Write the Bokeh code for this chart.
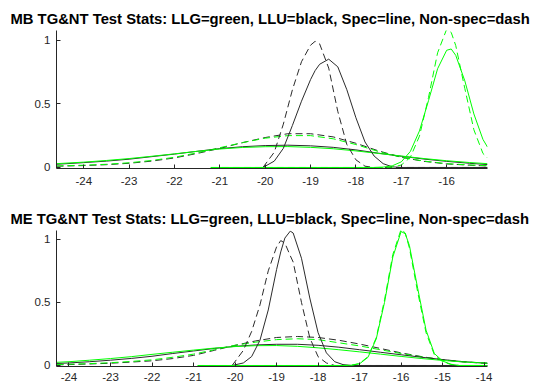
from bokeh.plotting import figure
from bokeh.layouts import column
from bokeh.models import FixedTicker, Range1d
from bokeh.embed import file_html
from bokeh.resources import INLINE

# ---------------- data ----------------
top_title = "MB TG&NT Test Stats: LLG=green, LLU=black, Spec=line, Non-spec=dash"
bot_title = "ME TG&NT Test Stats: LLG=green, LLU=black, Spec=line, Non-spec=dash"

top_xticks = [-24, -23, -22, -21, -20, -19, -18, -17, -16]
top_xlabels = ["-24", "-23", "-22", "-21", "-20", "-19", "-18", "-17", "-16"]
bot_xticks = [-24, -23, -22, -21, -20, -19, -18, -17, -16, -15, -14]
bot_xlabels = ["-24", "-23", "-22", "-21", "-20", "-19", "-18", "-17", "-16", "-15", "-14"]
yticks = [0, 0.5, 1]
ylabels = ["0", "0.5", "1"]

top_xlim = (-24.6, -15.1)
bot_xlim = (-24.3, -13.92)
top_ylim = (-0.008, 1.075)
bot_ylim = (-0.008, 1.07)

# --- top (MB) wide curves
top_wide_x = [-24.6, -24.0, -23.5, -23.0, -22.5, -22.0, -21.5, -21.0, -20.5, -20.0,
              -19.5, -19.0, -18.5, -18.0, -17.5, -17.0, -16.5, -16.0, -15.5, -15.1]
top_llu_spec_wide = [0.025, 0.038, 0.05, 0.065, 0.085, 0.105, 0.127, 0.148, 0.163, 0.172,
                     0.175, 0.17, 0.158, 0.138, 0.112, 0.088, 0.066, 0.048, 0.033, 0.023]
top_llg_spec_wide = [0.03, 0.042, 0.055, 0.07, 0.088, 0.107, 0.127, 0.145, 0.157, 0.163,
                     0.164, 0.158, 0.147, 0.13, 0.11, 0.09, 0.07, 0.053, 0.039, 0.03]
top_llu_non_wide = [0.01, 0.015, 0.022, 0.033, 0.05, 0.075, 0.11, 0.15, 0.195, 0.235,
                    0.265, 0.265, 0.24, 0.19, 0.13, 0.08, 0.048, 0.028, 0.018, 0.012]
top_llg_non_wide = [0.012, 0.018, 0.025, 0.037, 0.055, 0.08, 0.115, 0.155, 0.195, 0.23,
                    0.25, 0.25, 0.225, 0.18, 0.125, 0.08, 0.05, 0.03, 0.02, 0.014]

# --- top (MB) narrow black (LLU)
top_blk_x = [-20.05, -19.8, -19.6, -19.4, -19.2, -19.0, -18.9, -18.8, -18.6, -18.4,
             -18.2, -18.0, -17.8, -17.6, -17.4, -17.2, -17.0, -15.1]
top_llu_non_narrow = [0, 0.12, 0.34, 0.61, 0.83, 0.96, 0.99, 0.97, 0.78, 0.44,
                      0.18, 0.06, 0.01, 0, 0, 0, 0, 0]
top_llu_spec_narrow = [0, 0.05, 0.15, 0.33, 0.52, 0.69, 0.76, 0.81, 0.85, 0.79,
                       0.61, 0.39, 0.20, 0.09, 0.03, 0.005, 0, 0]

# --- top (MB) narrow green (LLG)
top_grn_x = [-21.2, -17.6, -17.4, -17.2, -17.0, -16.8, -16.6, -16.4, -16.2, -16.0,
             -15.9, -15.8, -15.6, -15.4, -15.2, -15.1]
top_llg_spec_narrow = [0, 0, 0.003, 0.013, 0.044, 0.126, 0.287, 0.525, 0.775, 0.92,
                       0.93, 0.88, 0.68, 0.42, 0.22, 0.16]
top_llg_non_narrow = [0, 0, 0, 0.003, 0.019, 0.08, 0.246, 0.55, 0.90, 1.085,
                      1.06, 0.957, 0.62, 0.296, 0.11, 0.075]

# --- bottom (ME) wide curves
bot_wide_x = [-24.3, -24.0, -23.5, -23.0, -22.5, -22.0, -21.5, -21.0, -20.5, -20.0, -19.5,
              -19.0, -18.5, -18.0, -17.5, -17.0, -16.5, -16.0, -15.5, -15.0, -14.5, -13.92]
bot_llu_spec_wide = [0.016, 0.02, 0.03, 0.042, 0.056, 0.073, 0.095, 0.115, 0.135, 0.152, 0.163,
                     0.168, 0.168, 0.16, 0.145, 0.125, 0.105, 0.085, 0.065, 0.047, 0.03, 0.018]
bot_llg_spec_wide = [0.025, 0.03, 0.042, 0.055, 0.07, 0.088, 0.105, 0.122, 0.138, 0.15, 0.157,
                     0.158, 0.152, 0.14, 0.125, 0.108, 0.09, 0.072, 0.055, 0.04, 0.028, 0.018]
bot_llu_non_wide = [0.005, 0.007, 0.012, 0.018, 0.027, 0.037, 0.055, 0.08, 0.12, 0.16, 0.195,
                    0.222, 0.23, 0.222, 0.2, 0.17, 0.135, 0.1, 0.07, 0.045, 0.028, 0.016]
bot_llg_non_wide = [0.007, 0.01, 0.015, 0.022, 0.032, 0.045, 0.065, 0.09, 0.125, 0.16, 0.185,
                    0.205, 0.212, 0.205, 0.18, 0.155, 0.125, 0.095, 0.068, 0.045, 0.03, 0.018]

# --- bottom (ME) narrow black (LLU)
bot_blk_x = [-20.07, -19.8, -19.6, -19.4, -19.2, -19.0, -18.9, -18.8, -18.67, -18.6,
             -18.4, -18.2, -18.0, -17.8, -17.6, -17.4, -17.2, -13.92]
bot_llu_spec_narrow = [0, 0.02, 0.071, 0.20, 0.44, 0.76, 0.90, 1.01, 1.065, 1.05,
                       0.85, 0.535, 0.26, 0.10, 0.03, 0.007, 0, 0]
bot_llu_non_narrow = [0, 0.12, 0.27, 0.48, 0.75, 0.94, 0.99, 0.97, 0.87, 0.82,
                      0.50, 0.22, 0.07, 0.02, 0, 0, 0, 0]

# --- bottom (ME) narrow green (LLG)
bot_grn_x = [-20.9, -17.4, -17.2, -17.0, -16.8, -16.6, -16.4, -16.2, -16.0, -15.9,
             -15.8, -15.6, -15.4, -15.2, -15.0, -14.8, -14.6, -13.92]
bot_llg_spec_narrow = [0, 0, 0.002, 0.014, 0.064, 0.21, 0.50, 0.86, 1.062, 1.044,
                       0.95, 0.61, 0.28, 0.095, 0.035, 0.01, 0, 0]
bot_llg_non_narrow = [0, 0, 0.002, 0.016, 0.07, 0.22, 0.52, 0.88, 1.08, 1.05,
                      0.93, 0.58, 0.26, 0.085, 0.03, 0.008, 0, 0]

# ---------------- styling ----------------
BLACK = "#2b2b2b"
GREEN = "#00ff00"
DASH = "7 4"
AXC = "#262626"
FONT = "Liberation Sans"


def make_fig(title, xlim, ylim, xticks, xlabels, height, btop, bbot, xstand):
    p = figure(width=534, height=height,
               x_range=Range1d(*xlim), y_range=Range1d(*ylim),
               output_backend="svg", toolbar_location=None,
               min_border_left=56, min_border_right=47,
               min_border_top=btop, min_border_bottom=bbot)
    p.outline_line_color = None
    p.xgrid.visible = False
    p.ygrid.visible = False
    p.background_fill_color = "white"
    p.border_fill_color = "white"

    p.title.text = title
    p.title.text_font = FONT
    p.title.text_font_size = "14.8px"
    p.title.text_font_style = "bold"
    p.title.text_color = "#000000"
    p.title.align = "left"
    p.title.offset = -46
    p.title.standoff = 8

    p.xaxis.ticker = FixedTicker(ticks=xticks)
    p.xaxis.major_label_overrides = {t: l for t, l in zip(xticks, xlabels)}
    p.yaxis.ticker = FixedTicker(ticks=yticks)
    p.yaxis.major_label_overrides = {t: l for t, l in zip(yticks, ylabels)}
    for ax in (p.xaxis[0], p.yaxis[0]):
        ax.axis_line_color = AXC
        ax.axis_line_width = 1
        ax.major_tick_line_color = AXC
        ax.major_tick_in = 4
        ax.major_tick_out = 0
        ax.minor_tick_line_color = None
        ax.major_label_text_font = FONT
        ax.major_label_text_font_size = "11.5px"
        ax.major_label_text_color = AXC
    p.xaxis.major_label_standoff = xstand
    p.yaxis.major_label_standoff = 6
    return p


def add_curves(p, wx, wide, bx, blk, gx, grn):
    for ys, col, dashed in wide:
        p.line(wx, ys, line_color=col, line_width=1,
               line_dash=DASH if dashed else "solid")
    for ys, col, dashed in blk:
        p.line(bx, ys, line_color=col, line_width=1,
               line_dash=DASH if dashed else "solid")
    for ys, col, dashed in grn:
        p.line(gx, ys, line_color=col, line_width=1,
               line_dash=DASH if dashed else "solid")


p1 = make_fig(top_title, top_xlim, top_ylim, top_xticks, top_xlabels, 196, 30, 28, 8)
add_curves(p1, top_wide_x,
           [(top_llu_non_wide, BLACK, True), (top_llg_non_wide, GREEN, True),
            (top_llu_spec_wide, BLACK, False), (top_llg_spec_wide, GREEN, False)],
           top_blk_x,
           [(top_llu_non_narrow, BLACK, True), (top_llu_spec_narrow, BLACK, False)],
           top_grn_x,
           [(top_llg_non_narrow, GREEN, True), (top_llg_spec_narrow, GREEN, False)])

p2 = make_fig(bot_title, bot_xlim, bot_ylim, bot_xticks, bot_xlabels, 189, 34, 19, 6)
add_curves(p2, bot_wide_x,
           [(bot_llu_non_wide, BLACK, True), (bot_llg_non_wide, GREEN, True),
            (bot_llu_spec_wide, BLACK, False), (bot_llg_spec_wide, GREEN, False)],
           bot_blk_x,
           [(bot_llu_non_narrow, BLACK, True), (bot_llu_spec_narrow, BLACK, False)],
           bot_grn_x,
           [(bot_llg_non_narrow, GREEN, True), (bot_llg_spec_narrow, GREEN, False)])

layout = column(p1, p2)
open("out.html", "w").write(file_html(layout, INLINE))
